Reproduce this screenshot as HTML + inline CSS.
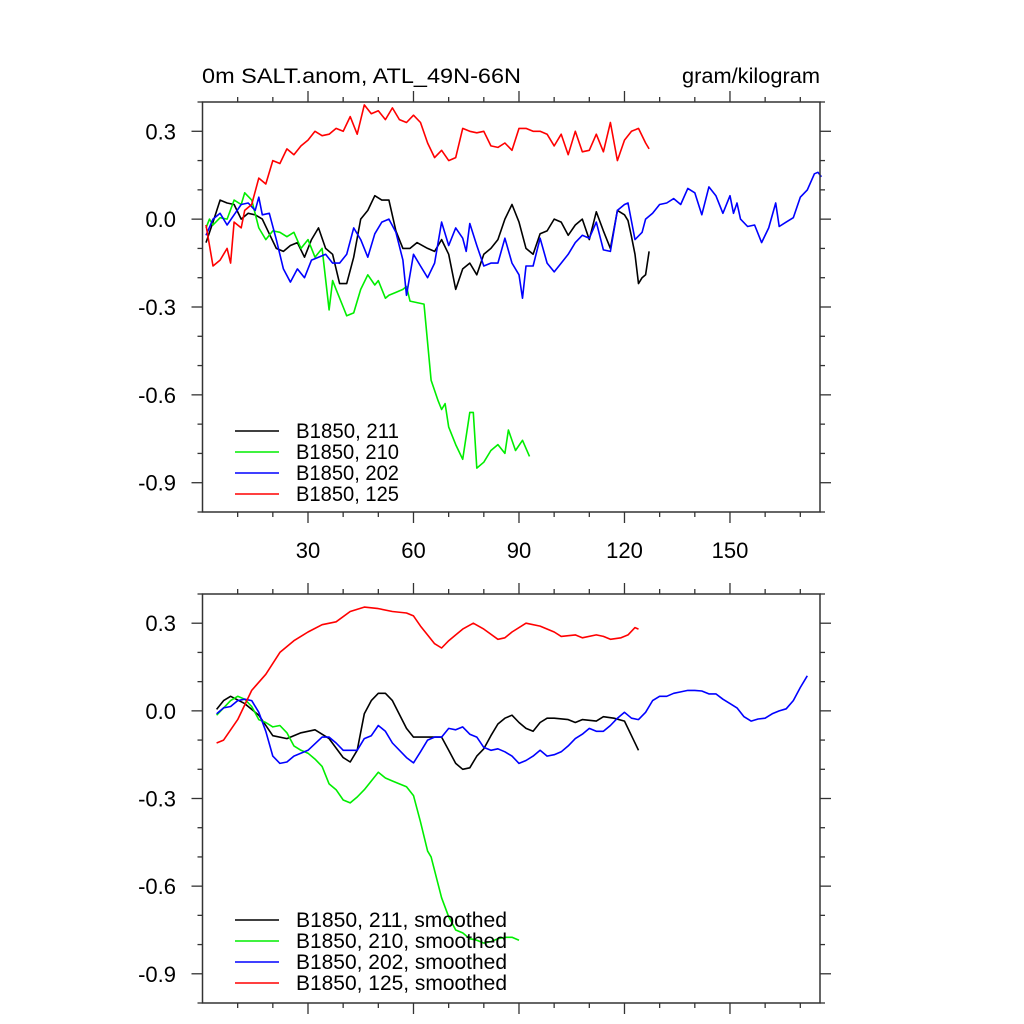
<!DOCTYPE html>
<html><head><meta charset="utf-8"><style>
body{margin:0;background:#fff;}
svg{display:block;font-family:"Liberation Sans",sans-serif;}
</style></head><body>
<svg id="chart" width="1024" height="1024" viewBox="0 0 1024 1024" xmlns="http://www.w3.org/2000/svg">
<text x="202" y="83" font-size="21.5" textLength="319" lengthAdjust="spacingAndGlyphs" fill="#000">0m SALT.anom, ATL_49N-66N</text>
<text x="682" y="83" font-size="21.5" textLength="138" lengthAdjust="spacingAndGlyphs" fill="#000">gram/kilogram</text>
</svg>
<script>
// ---- data (raw) ----
const xTickLabels = [30, 60, 90, 120, 150];
const yTickLabels = ["0.3", "0.0", "-0.3", "-0.6", "-0.9"];
const yTickValues = [0.3, 0.0, -0.3, -0.6, -0.9];

const rawBlackYears = [1,3,5,7,9,11,13,15,17,19,21,23,25,27,29,31,33,35,37,39,41,43,45,47,49,51,53,55,57,59,61,64,66,68,70,72,74,76,78,80,82,84,86,88,90,92,94,96,98,100,102,104,106,108,110,112,114,116,118,120,121,122,123,124,125,126,127];
const rawBlackVals = [-0.08,-0.01,0.065,0.055,0.05,0,0.02,0.015,0,-0.05,-0.1,-0.11,-0.09,-0.08,-0.13,-0.07,-0.03,-0.1,-0.12,-0.22,-0.22,-0.13,0,0.03,0.08,0.065,0.065,-0.04,-0.1,-0.1,-0.08,-0.1,-0.11,-0.07,-0.12,-0.24,-0.17,-0.15,-0.19,-0.12,-0.1,-0.07,0,0.05,-0.01,-0.1,-0.12,-0.05,-0.04,0,-0.01,-0.055,-0.02,0,-0.07,0.025,-0.04,-0.1,0.03,0.015,-0.005,-0.06,-0.12,-0.22,-0.2,-0.19,-0.11];

const rawGreenYears = [1,2,3,5,7,9,11,12,14,16,18,20,22,24,26,28,30,32,34,36,37,38,40,41,43,45,47,49,50,52,53,55,57,58,59,61,63,65,67,68,69,70,72,74,76,77,78,80,82,84,86,87,89,91,93];
const rawGreenVals = [-0.03,0,-0.02,0.005,0,0.065,0.05,0.09,0.065,-0.03,-0.07,-0.04,-0.045,-0.06,-0.045,-0.1,-0.07,-0.13,-0.1,-0.31,-0.21,-0.24,-0.3,-0.33,-0.32,-0.24,-0.19,-0.225,-0.21,-0.27,-0.26,-0.25,-0.24,-0.23,-0.28,-0.285,-0.29,-0.55,-0.62,-0.65,-0.63,-0.71,-0.77,-0.82,-0.66,-0.66,-0.85,-0.83,-0.79,-0.77,-0.8,-0.72,-0.79,-0.755,-0.81];

const rawBlueYears = [1,3,5,7,9,11,13,15,16,17,19,21,23,25,27,29,31,33,35,37,39,41,43,45,47,49,51,53,55,57,58,60,62,64,66,68,70,72,74,75,76,78,80,82,84,86,88,90,91,92,94,96,98,100,102,104,106,108,110,112,114,116,118,120,121,123,125,126,128,130,132,134,136,138,140,142,144,146,148,150,151,152,153,155,157,159,161,163,164,166,168,170,172,174,175,176];
const rawBlueVals = [-0.055,0,0.02,-0.02,0.015,0.05,0.055,0.03,0.075,0.015,0.02,-0.07,-0.17,-0.215,-0.17,-0.2,-0.14,-0.13,-0.12,-0.15,-0.15,-0.12,-0.03,-0.07,-0.13,-0.05,-0.01,0,-0.045,-0.14,-0.26,-0.12,-0.16,-0.2,-0.15,-0.01,-0.09,-0.03,-0.065,-0.11,-0.015,-0.09,-0.16,-0.15,-0.15,-0.065,-0.15,-0.19,-0.27,-0.16,-0.16,-0.065,-0.15,-0.18,-0.15,-0.12,-0.08,-0.055,-0.065,-0.01,-0.105,-0.11,0.03,0.05,0.055,-0.07,-0.045,0,0.02,0.05,0.055,0.07,0.05,0.105,0.09,0.015,0.11,0.08,0.02,0.08,0.02,0.055,0,-0.025,-0.02,-0.08,-0.03,0.055,-0.025,-0.01,0.005,0.075,0.1,0.155,0.16,0.145];

const rawRedYears = [1,3,5,7,8,9,11,12,14,16,18,20,22,24,26,28,30,32,34,36,38,40,42,44,46,48,50,52,54,56,58,60,62,64,66,68,70,72,74,76,78,80,82,84,86,88,90,92,94,96,98,100,102,104,106,108,110,112,114,116,118,120,122,124,126,127];
const rawRedVals = [-0.02,-0.16,-0.14,-0.1,-0.15,-0.01,-0.03,0.03,0.05,0.14,0.12,0.2,0.19,0.24,0.22,0.25,0.27,0.3,0.285,0.29,0.31,0.3,0.35,0.29,0.39,0.36,0.37,0.34,0.38,0.34,0.33,0.355,0.33,0.26,0.21,0.235,0.2,0.21,0.31,0.3,0.295,0.3,0.25,0.245,0.26,0.235,0.31,0.31,0.3,0.3,0.29,0.25,0.29,0.22,0.3,0.23,0.235,0.29,0.23,0.33,0.2,0.27,0.3,0.31,0.26,0.24];

// ---- data (smoothed) ----
const smBlackYears = [4,6,8,12,16,20,24,28,32,36,40,42,44,46,48,50,52,54,58,60,64,66,68,70,72,74,76,78,80,82,84,86,88,90,92,94,96,98,100,104,106,108,112,114,117,120,122,124];
const smBlackVals = [0.005,0.035,0.05,0.025,-0.015,-0.085,-0.095,-0.075,-0.065,-0.095,-0.16,-0.175,-0.135,-0.01,0.035,0.06,0.06,0.035,-0.06,-0.09,-0.09,-0.09,-0.09,-0.135,-0.18,-0.2,-0.195,-0.155,-0.13,-0.085,-0.045,-0.025,-0.015,-0.04,-0.06,-0.07,-0.04,-0.025,-0.025,-0.03,-0.04,-0.03,-0.035,-0.02,-0.025,-0.035,-0.085,-0.135];

const smGreenYears = [4,6,8,10,12,14,16,18,20,22,24,26,28,30,32,34,36,38,40,42,44,46,48,50,52,54,56,58,60,62,64,65,68,70,72,74,76,78,80,82,84,86,88,90];
const smGreenVals = [-0.015,0.01,0.035,0.05,0.04,0.015,-0.03,-0.04,-0.055,-0.05,-0.075,-0.12,-0.135,-0.145,-0.165,-0.19,-0.25,-0.27,-0.305,-0.315,-0.295,-0.27,-0.24,-0.21,-0.23,-0.24,-0.25,-0.26,-0.29,-0.38,-0.48,-0.5,-0.64,-0.705,-0.75,-0.76,-0.78,-0.785,-0.795,-0.79,-0.78,-0.775,-0.775,-0.785];

const smBlueYears = [4,6,8,10,12,14,16,18,20,22,24,26,30,34,36,38,40,42,44,46,48,50,52,54,58,60,62,64,66,68,70,72,74,76,78,80,82,84,86,88,90,92,94,96,98,100,102,104,106,108,110,112,114,116,118,120,122,124,126,128,130,132,134,136,138,140,142,144,146,148,150,152,154,156,158,160,162,164,166,168,170,172];
const smBlueVals = [-0.01,0.01,0.015,0.035,0.04,0.035,-0.005,-0.07,-0.155,-0.18,-0.175,-0.155,-0.135,-0.09,-0.09,-0.11,-0.135,-0.135,-0.135,-0.095,-0.085,-0.05,-0.07,-0.11,-0.16,-0.178,-0.14,-0.1,-0.09,-0.09,-0.06,-0.065,-0.055,-0.08,-0.09,-0.125,-0.135,-0.13,-0.14,-0.155,-0.18,-0.17,-0.155,-0.135,-0.155,-0.15,-0.14,-0.12,-0.095,-0.08,-0.06,-0.07,-0.07,-0.05,-0.025,-0.005,-0.025,-0.03,-0.005,0.035,0.05,0.05,0.06,0.065,0.07,0.07,0.068,0.058,0.058,0.04,0.025,0.01,-0.02,-0.035,-0.028,-0.025,-0.01,0,0.007,0.035,0.08,0.12];

const smRedYears = [4,6,10,14,18,22,26,30,34,38,42,46,50,54,58,60,62,66,68,70,74,77,80,84,86,88,92,96,100,102,106,108,112,114,116,119,121,123,124];
const smRedVals = [-0.11,-0.1,-0.03,0.07,0.125,0.2,0.24,0.27,0.295,0.305,0.34,0.355,0.35,0.34,0.335,0.325,0.29,0.23,0.215,0.24,0.28,0.3,0.28,0.245,0.25,0.27,0.3,0.29,0.27,0.255,0.26,0.25,0.26,0.255,0.245,0.25,0.26,0.285,0.28];

const seriesColors = ["#000000","#00ee00","#0000ff","#ff0000"];
const rawLegend = ["B1850, 211","B1850, 210","B1850, 202","B1850, 125"];
const smLegend = ["B1850, 211, smoothed","B1850, 210, smoothed","B1850, 202, smoothed","B1850, 125, smoothed"];

const NS = "http://www.w3.org/2000/svg";
const svg = document.getElementById('chart');
const X0 = 202.5, X1 = 820, XMIN = 0, XMAX = 175.6, YMIN = -1.0, YMAX = 0.4;
function mk(tag, attrs, parent){const e=document.createElementNS(NS,tag);for(const k in attrs)e.setAttribute(k,attrs[k]);(parent||svg).appendChild(e);return e;}
function xs(v){return X0+(v-XMIN)/(XMAX-XMIN)*(X1-X0);}

function panel(name, top, bottom, showX, years, vals, legend, legTop, legW){
  const g = mk('g',{});
  
  
  const ys = v => bottom-(v-YMIN)/(YMAX-YMIN)*(bottom-top);
  for(let s=0;s<4;s++){
    let d='';
    for(let i=0;i<years[s].length;i++) d+=(i?'L':'M')+xs(years[s][i]).toFixed(1)+' '+ys(vals[s][i]).toFixed(1);
    const p=mk('path',{d:d,fill:'none',stroke:seriesColors[s],'stroke-width':1.6,'stroke-linejoin':'round'},g);
    
    
  }
  const fr=mk('rect',{x:X0,y:top,width:X1-X0,height:bottom-top,fill:'none',stroke:'#333','stroke-width':1.5},g);
  
  
  for(let v=10; v<XMAX; v+=10){
    const major = v%30===0, L = major?11:5, x=xs(v);
    mk('line',{x1:x,x2:x,y1:bottom,y2:bottom+L,stroke:'#333','stroke-width':1.3},g);
    mk('line',{x1:x,x2:x,y1:top,y2:top-L,stroke:'#333','stroke-width':1.3},g);
  }
  if(showX){
    for(const t of xTickLabels){
      const tx=mk('text',{x:xs(t),y:bottom+46,'font-size':22,'text-anchor':'middle',fill:'#000'},g);
      tx.textContent=t;
      
      
    }
  }
  for(let k=-10;k<=4;k++){
    const v=k/10, y=ys(v), major=(k%3===0), L=major?11:5;
    mk('line',{x1:X0,x2:X0-L,y1:y,y2:y,stroke:'#333','stroke-width':1.3},g);
    mk('line',{x1:X1,x2:X1+L,y1:y,y2:y,stroke:'#333','stroke-width':1.3},g);
  }
  for(let i=0;i<yTickValues.length;i++){
    const ty=mk('text',{x:176,y:ys(yTickValues[i])+8,'font-size':22,'text-anchor':'end',fill:'#000'},g);
    ty.textContent=yTickLabels[i];
    
    
  }
  for(let s=0;s<4;s++){
    const y=legTop+s*21;
    const ll=mk('line',{x1:235,x2:279,y1:y,y2:y,stroke:seriesColors[s],'stroke-width':1.6},g);
    
    
    const lt=mk('text',{x:296,y:y+7,'font-size':21,fill:'#000',textLength:legW,lengthAdjust:'spacingAndGlyphs'},g);
    lt.textContent=legend[s];
    
    
  }
}
panel('raw-panel',102,512,true,[rawBlackYears,rawGreenYears,rawBlueYears,rawRedYears],[rawBlackVals,rawGreenVals,rawBlueVals,rawRedVals],rawLegend,431,103);
panel('smoothed-panel',594,1003,false,[smBlackYears,smGreenYears,smBlueYears,smRedYears],[smBlackVals,smGreenVals,smBlueVals,smRedVals],smLegend,920,211);
</script>
</body></html>
